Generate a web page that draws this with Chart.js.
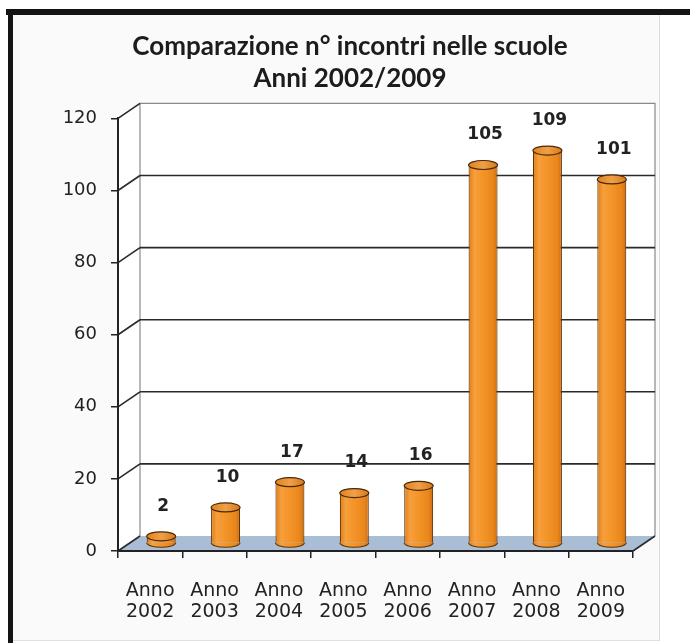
<!DOCTYPE html>
<html><head><meta charset="utf-8">
<script src="https://cdn.jsdelivr.net/npm/chart.js@4.4.1/dist/chart.umd.min.js"></script>
<style>
html,body{margin:0;padding:0;background:#fff;width:690px;height:643px;overflow:hidden;}
#wrap{position:relative;width:690px;height:643px;}
.f{position:absolute;}
canvas{position:absolute;left:0;top:0;}
</style></head><body>
<div id="wrap">
<div class="f" style="left:13px;top:15px;width:646px;height:625px;background:#fafafa;"></div>
<div class="f" style="left:6px;top:9px;width:684px;height:6px;background:#141414;"></div>
<div class="f" style="left:8px;top:9px;width:5px;height:634px;background:#141414;"></div>
<div class="f" style="left:659px;top:15px;width:1px;height:625px;background:#dcdcdc;"></div>
<div class="f" style="left:13px;top:640px;width:647px;height:1px;background:#e0e0e0;"></div>
<canvas id="c" width="690" height="643"></canvas>
</div>
<script>
// ---- data ----
const years = ['2002','2003','2004','2005','2006','2007','2008','2009'];
const categoryLabels = years.map(y => ['Anno', y]);
const incontri = [2, 10, 17, 14, 16, 105, 109, 101];
const titleLines = ['Comparazione n° incontri nelle scuole', 'Anni 2002/2009'];
const yMin = 0, yMax = 120, yStep = 20;

// ---- 3D look ----
const DX = 22, DY = -15;        // depth offset of back wall
const BX = DX / 2, BY = DY / 2; // bars sit at mid depth

function barGradient(ctx, xc, w) {
  const g = ctx.createLinearGradient(xc - w / 2, 0, xc + w / 2, 0);
  g.addColorStop(0, '#e07c16');
  g.addColorStop(0.2, '#f69f3c');
  g.addColorStop(0.5, '#f39428');
  g.addColorStop(0.85, '#e8861c');
  g.addColorStop(1, '#cc6a0e');
  return g;
}

const walls = {
  id: 'walls',
  afterLayout(chart) {
    // centre the title over the framed picture
    if (chart.titleBlock) chart.titleBlock.left = 67;
  },
  beforeDraw(chart) {
    const { ctx, chartArea: a, scales: { y } } = chart;
    ctx.save();
    ctx.fillStyle = '#ffffff';
    ctx.beginPath();
    ctx.moveTo(a.left, a.top); ctx.lineTo(a.left + DX, a.top + DY);
    ctx.lineTo(a.left + DX, a.bottom + DY); ctx.lineTo(a.left, a.bottom);
    ctx.closePath(); ctx.fill();
    ctx.fillRect(a.left + DX, a.top + DY, a.right - a.left, a.bottom - a.top);
    ctx.fillStyle = '#a9bdd4';
    ctx.beginPath();
    ctx.moveTo(a.left, a.bottom); ctx.lineTo(a.left + DX, a.bottom + DY);
    ctx.lineTo(a.right + DX, a.bottom + DY); ctx.lineTo(a.right, a.bottom);
    ctx.closePath(); ctx.fill();
    ctx.strokeStyle = '#8a8a8a'; ctx.lineWidth = 1.2;
    ctx.beginPath();
    ctx.moveTo(a.left + DX, a.bottom + DY); ctx.lineTo(a.left + DX, a.top + DY);
    ctx.lineTo(a.right + DX, a.top + DY); ctx.lineTo(a.right + DX, a.bottom + DY);
    ctx.stroke();
    y.ticks.forEach(t => {
      const py = y.getPixelForValue(t.value);
      ctx.strokeStyle = '#2a2a2a'; ctx.lineWidth = 1.6;
      ctx.beginPath();
      ctx.moveTo(a.left, py); ctx.lineTo(a.left + DX, py + DY);
      ctx.stroke();
      if (t.value > yMin && t.value < yMax) {
        ctx.beginPath();
        ctx.moveTo(a.left + DX, py + DY); ctx.lineTo(a.right + DX, py + DY);
        ctx.stroke();
      }
    });
    ctx.strokeStyle = '#2a2a2a'; ctx.lineWidth = 1.6;
    ctx.beginPath();
    ctx.moveTo(a.right, a.bottom); ctx.lineTo(a.right + DX, a.bottom + DY);
    ctx.stroke();
    ctx.restore();
  },
  beforeDatasetsDraw(chart) {
    chart.ctx.save();
    chart.ctx.translate(BX, BY);
  },
  afterDatasetsDraw(chart) {
    const ctx = chart.ctx;
    ctx.restore();
    const meta = chart.getDatasetMeta(0);
    ctx.save();
    meta.data.forEach((el, i) => {
      const cx = el.x + BX, top = el.y + BY, base = el.base + BY;
      const rx = el.width / 2, ry = 4.5;
      ctx.fillStyle = barGradient(ctx, cx, el.width);
      ctx.strokeStyle = '#5e3208'; ctx.lineWidth = 1.1;
      ctx.beginPath();
      ctx.ellipse(cx, base, rx, ry, 0, 0, Math.PI);
      ctx.fill(); ctx.stroke();
      const g = ctx.createLinearGradient(cx - rx, 0, cx + rx, 0);
      g.addColorStop(0, '#e0841e'); g.addColorStop(0.5, '#eea04a'); g.addColorStop(1, '#d67a1a');
      ctx.fillStyle = g;
      ctx.strokeStyle = '#4a2806'; ctx.lineWidth = 1.2;
      ctx.beginPath();
      ctx.ellipse(cx, top, rx, ry, 0, 0, Math.PI * 2);
      ctx.fill(); ctx.stroke();
      ctx.fillStyle = '#222';
      ctx.font = 'bold 17px "DejaVu Sans"';
      ctx.textAlign = 'center'; ctx.textBaseline = 'middle';
      ctx.fillText(String(incontri[i]), cx + 2, top - 30);
    });
    ctx.restore();
  }
};

new Chart(document.getElementById('c'), {
  type: 'bar',
  data: {
    labels: categoryLabels,
    datasets: [{
      data: incontri,
      backgroundColor: (c) => {
        const ch = c.chart, xs = ch.scales.x;
        if (!xs || !ch.chartArea) return '#f39428';
        const xc = xs.getPixelForValue(c.dataIndex);
        const w = (ch.chartArea.right - ch.chartArea.left) / years.length * 0.45;
        return barGradient(ch.ctx, xc, w);
      },
      borderColor: '#5e3208',
      borderWidth: { left: 1.1, right: 1.1, top: 0, bottom: 0 },
      borderSkipped: false,
      barPercentage: 0.45,
      categoryPercentage: 1,
      clip: false
    }]
  },
  options: {
    responsive: false,
    animation: false,
    devicePixelRatio: 1,
    layout: { padding: { left: 10, right: 57, top: 0, bottom: 0 } },
    plugins: {
      legend: { display: false },
      tooltip: { enabled: false },
      title: {
        display: true,
        text: titleLines,
        color: '#1c1c1c',
        font: { family: 'Lato', size: 26, weight: 'bold', lineHeight: 1.22 },
        padding: { top: 31, bottom: 24 }
      }
    },
    scales: {
      x: {
        grid: { display: true, drawOnChartArea: false, drawTicks: true, tickLength: 7, color: '#222', lineWidth: 1.5, offset: true },
        border: { display: true, color: '#222', width: 2 },
        ticks: { color: '#222', font: { family: 'DejaVu Sans', size: 19, lineHeight: 1.1 }, padding: 23, maxRotation: 0, autoSkip: false },
        afterFit(s) { s.height = 92; }
      },
      y: {
        min: yMin, max: yMax,
        ticks: { stepSize: yStep, color: '#222', font: { family: 'DejaVu Sans', size: 18 }, padding: 14 },
        grid: { drawOnChartArea: false, drawTicks: true, tickLength: 7, color: '#222', lineWidth: 1.5 },
        border: { display: true, color: '#222', width: 2 },
        afterFit(s) { s.width = 108; }
      }
    }
  },
  plugins: [walls]
});
</script>
</body></html>
